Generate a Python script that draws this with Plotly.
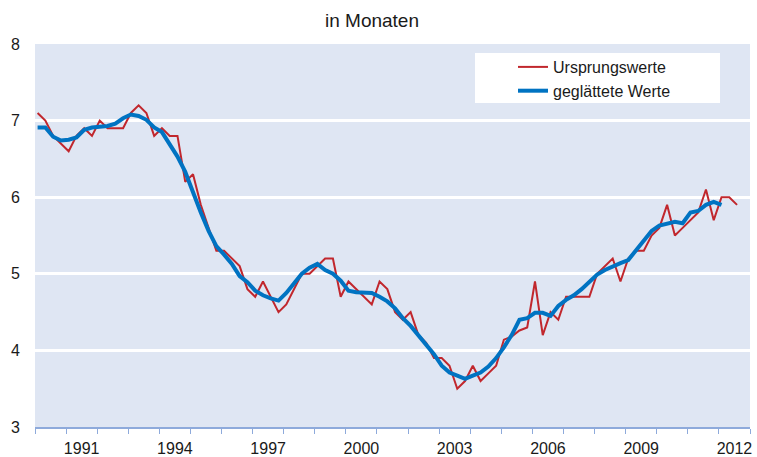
import plotly.graph_objects as go

# Quarterly data, first quarter 1990
start_year = 1990
ursprungswerte = [
    7.1, 7.0, 6.8, 6.7, 6.6, 6.8, 6.9, 6.8, 7.0, 6.9, 6.9, 6.9, 7.1, 7.2, 7.1, 6.8,
    6.9, 6.8, 6.8, 6.2, 6.3, 5.9, 5.6, 5.3, 5.3, 5.2, 5.1, 4.8, 4.7, 4.9, 4.7, 4.5,
    4.6, 4.8, 5.0, 5.0, 5.1, 5.2, 5.2, 4.7, 4.9, 4.8, 4.7, 4.6, 4.9, 4.8, 4.5, 4.4,
    4.5, 4.2, 4.1, 3.9, 3.9, 3.8, 3.5, 3.6, 3.8, 3.6, 3.7, 3.8, 4.14, 4.18, 4.26, 4.3,
    4.9, 4.2, 4.5, 4.4, 4.7, 4.7, 4.7, 4.7, 5.0, 5.1, 5.2, 4.9, 5.2, 5.3, 5.3, 5.5,
    5.6, 5.9, 5.5, 5.6, 5.7, 5.8, 6.1, 5.7, 6.0, 6.0, 5.9,
]
geglaettet = [
    6.91, 6.91, 6.79, 6.74, 6.75, 6.78, 6.88, 6.91, 6.92, 6.93, 6.96, 7.03, 7.08, 7.06, 7.01, 6.91,
    6.85, 6.70, 6.53, 6.33, 6.05, 5.80, 5.56, 5.36, 5.25, 5.13, 4.97, 4.89, 4.78, 4.72, 4.68, 4.65,
    4.75, 4.87, 5.00, 5.08, 5.13, 5.05, 5.00, 4.91, 4.78, 4.76, 4.75, 4.75, 4.70, 4.64, 4.55, 4.42,
    4.32, 4.20, 4.07, 3.95, 3.80, 3.71, 3.67, 3.63, 3.67, 3.71, 3.79, 3.90, 4.04, 4.20, 4.40, 4.42,
    4.49, 4.49, 4.45, 4.58, 4.66, 4.72, 4.80, 4.89, 4.99, 5.05, 5.10, 5.14, 5.18, 5.31, 5.42, 5.56,
    5.63, 5.65, 5.68, 5.66, 5.80, 5.82, 5.90, 5.94, 5.90,
]
x_tick_labels = ["1991", "1994", "1997", "2000", "2003", "2006", "2009", "2012"]
y_tick_values = [3, 4, 5, 6, 7, 8]


def quarter_pos(i):
    # middle month of the quarter, as decimal year
    year = start_year + i // 4
    q = i % 4 + 1
    return year + (3 * q - 2) / 12


x_orig = [quarter_pos(i) for i in range(len(ursprungswerte))]
x_smooth = [quarter_pos(i) for i in range(len(geglaettet))]

RED = "#C1272D"
BLUE = "#0073C2"
BG = "#DFE6F3"
AXIS = "#8EAADB"
FONT = "Liberation Sans, Arial, sans-serif"

fig = go.Figure()
fig.add_trace(go.Scatter(x=x_orig, y=ursprungswerte, mode="lines", name="Ursprungswerte",
                         line=dict(color=RED, width=2), legendgroup="a"))
fig.add_trace(go.Scatter(x=x_smooth, y=geglaettet, mode="lines", name="geglättete Werte",
                         line=dict(color=BLUE, width=4), legendgroup="b"))

L, R, T, B = 35, 7, 44, 30
W, H = 757, 457
pw, ph = W - L - R, H - T - B


def px_x(px):
    return (px - L) / pw


def px_y(py):
    return (H - B - py) / ph


fig.add_shape(type="rect", xref="paper", yref="paper",
              x0=px_x(475), x1=px_x(720), y0=px_y(103), y1=px_y(53),
              fillcolor="white", line=dict(width=0), layer="below")

fig.update_layout(
    width=W, height=H,
    margin=dict(l=L, r=R, t=T, b=B, autoexpand=False),
    paper_bgcolor="white",
    plot_bgcolor=BG,
    font=dict(family=FONT, size=16, color="#1a1a1a"),
    title=dict(text="in Monaten", x=px_x(372), xref="paper", xanchor="center",
               y=1 - 20 / H, yref="container", yanchor="middle", automargin=False,
               font=dict(family=FONT, size=19, color="#1a1a1a")),
    showlegend=True,
    legend=dict(x=px_x(513), xanchor="left", y=px_y(50), yanchor="top",
                bgcolor="rgba(0,0,0,0)", font=dict(family=FONT, size=16, color="#1a1a1a"),
                tracegroupgap=2, traceorder="normal"),
    xaxis=dict(range=[start_year, 2013], automargin=False,
               tickmode="array",
               tickvals=[int(t) + 0.5 for t in x_tick_labels],
               ticktext=x_tick_labels,
               ticks="", showgrid=False, zeroline=False,
               showline=True, linecolor=AXIS, linewidth=1.5,
               ticklabelstandoff=6, ticklabeloverflow="allow",
               tickfont=dict(size=16),
               minor=dict(tickmode="linear", tick0=start_year, dtick=1, ticks="outside",
                          ticklen=5, tickcolor=AXIS, tickwidth=1, showgrid=False)),
    yaxis=dict(range=[3, 8], tickmode="array", tickvals=y_tick_values, automargin=False,
               ticks="", showgrid=True, gridcolor="white", gridwidth=3,
               zeroline=False, showline=False, ticklabelstandoff=14,
               tickfont=dict(size=16)),
)

fig.write_html("out.html", config={"displayModeBar": False},
               post_script="document.body.style.margin='0';")
